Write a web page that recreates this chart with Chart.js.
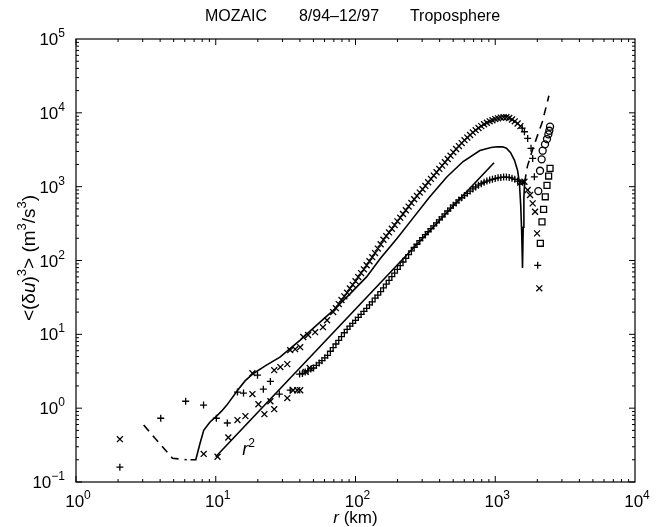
<!DOCTYPE html>
<html>
<head>
<meta charset="utf-8">
<script src="https://cdn.jsdelivr.net/npm/chart.js@4.4.1/dist/chart.umd.min.js"></script>
<style>
  html, body { margin: 0; padding: 0; background: #fff; }
</style>
</head>
<body>
<canvas id="sf3" width="665" height="527"></canvas>
<script>
// axis ticks: decade values and the exponent shown in each "10^n" label
const xDecades = [1, 10, 100, 1000, 10000];
const xTickExp = ['0', '1', '2', '3', '4'];
const yDecades = [0.1, 1, 10, 100, 1000, 10000, 100000];
const yTickExp = ['\u22121', '0', '1', '2', '3', '4', '5'];

// upper branch, "x" markers (dense part)
const upperR = [69.2,72.4,75.9,79.4,83.2,87.1,91.2,95.5,100,104.7,109.6,114.8,120.2,125.9,131.8,138.0,144.5,151.4,158.5,166.0,
  173.8,182.0,190.5,199.5,208.9,218.8,229.1,239.9,251.2,263.0,275.4,288.4,302.0,316.2,331.1,346.7,363.1,380.2,398.1,416.9,
  436.5,457.1,478.6,501.2,524.8,549.5,575.4,602.6,631.0,660.7,691.8,724.4,758.6,794.3,831.8,871.0,912.0,955.0,1000,1047,
  1096,1148,1202,1259,1318,1380,1445,1514];
const upperV = [20,22.6,25.7,29.2,32.7,36.7,41.7,46.8,52.5,59.6,67.6,75.9,86.1,97.7,111,126,145,166,191,214,
  240,269,302,339,380,427,479,537,603,676,750,832,923,1023,1148,1274,1413,1567,1738,1928,
  2138,2371,2630,2917,3236,3548,3890,4266,4624,5012,5433,5821,6237,6607,6998,7328,7674,7943,8222,8414,
  8610,8710,8710,8511,8128,7674,7161,6607];

// lower branch, "+" markers (dense part)
const lowerR = [39.8,41.7,43.7,45.7,47.9,50.1,52.5,55.0,57.5,60.3,63.1,66.1,
  69.2,72.4,75.9,79.4,83.2,87.1,91.2,95.5,100,104.7,109.6,114.8,120.2,125.9,131.8,138.0,144.5,151.4,158.5,166.0,
  173.8,182.0,190.5,199.5,208.9,218.8,229.1,239.9,251.2,263.0,275.4,288.4,302.0,316.2,331.1,346.7,363.1,380.2,398.1,416.9,
  436.5,457.1,478.6,501.2,524.8,549.5,575.4,602.6,631.0,660.7,691.8,724.4,758.6,794.3,831.8,871.0,912.0,955.0,1000,1047,
  1096,1148,1202,1259,1318,1380,1445];
const lowerV = [2.9,2.95,3.1,3.2,3.4,3.5,3.8,4.1,4.4,4.8,5.2,5.9,
  6.6,7.4,8.3,9.3,10.5,11.7,12.9,14.1,15.5,17.0,18.6,20.4,22.4,25.1,27.5,30.9,33.9,38.0,42.7,47.9,
  53.7,60.3,67.6,75.9,85.1,95.5,107,120,135,151,166,186,204,224,245,269,295,324,355,389,
  427,468,513,562,603,661,708,759,813,871,933,989,1047,1096,1148,1189,1230,1259,1288,1318,
  1334,1349,1349,1334,1303,1259,1189];

// scattered points at small and large separations
const crossSmallR = [2.06,8.2,10.3,12.3,14.3,16.3,18.3,20.2,22.3,24.6,26.2,32.5,35.8,38.3,40.2,18.3,26.2,29.0,32.5,34.1,37.0,40.2,42.3,45.8,51.4,58.5,62.6,44,47];
const crossSmallV = [0.38,0.24,0.22,0.40,0.69,0.78,1.55,1.13,0.83,1.24,0.97,1.37,1.75,1.75,1.75,2.98,3.27,3.6,3.95,6.1,6.3,6.7,9.2,9.8,10.7,12.5,15.5,3.1,3.5];
const plusSmallR = [2.06,4.04,6.09,8.18,10.1,12.1,14.3,15.8,19.9,21.9,24.6,28.5,34.1];
const plusSmallV = [0.159,0.73,1.24,1.10,0.73,0.63,1.65,1.6,2.8,1.81,2.3,1.55,1.75];
const plusTailR = [1560,1617,1706,1803,1853,1905,2013];
const plusTailV = [6200,5546,4508,3304,2415,1361,86];
const crossTailR = [1510,1565,1617,1706,1774,1853,1927,1991,2066];
const crossTailV = [1140,1150,1164,900,770,594,457,233,42];
const circleR = [2466,2437,2399,2346,2270,2184,2148,2091,2033];
const circleV = [6490,5720,5117,4416,3741,3069,2344,1644,871];
const squareR = [2466,2410,2346,2280,2218,2160,2102];
const squareV = [1770,1393,1042,730,492,334,171];

// fitted curve (solid where positive, dashed where negative)
const fitR = [6.6,7.2,7.67,8.2,9.1,10,11,12.0,14.3,16.2,18.6,22.9,28.8,40,52.5,69,91,120,151,200,257,339,450,589,776,933,1030,1130,1202,1288,1371,1445,1489,1521,1545,1567,1585,1603,1622];
const fitV = [0.2,0.2,0.32,0.5,0.65,0.76,0.91,1.1,1.74,2.34,2.95,3.8,4.9,8.3,13.2,21,35,60,107,204,372,724,1350,2190,3090,3390,3470,3460,3310,2880,2290,1660,1120,562,251,79,282,708,1150];
const fitNegLeftR = [3.05,4.9,6.2];
const fitNegLeftV = [0.59,0.21,0.2];
const fitNegRightR = [1622,1700,1880,2170,2420];
const fitNegRightV = [1150,1900,3500,7500,17000];

// r^2 reference line
const slopeR = [10, 980];
const slopeV = [0.22, 2113];

const pts = (xs, ys) => xs.map((x, i) => ({ x: x, y: ys[i] }));

const FONT = '"Liberation Sans", Arial, Helvetica, sans-serif';

// draws a row of text pieces (with superscripts), anchored by align
function drawRuns(ctx, runs, x, y, align) {
    let w = 0;
    runs.forEach(r => { ctx.font = r.font; w += ctx.measureText(r.t).width; });
    let cx = align === 'center' ? x - w / 2 : (align === 'right' ? x - w : x);
    ctx.textBaseline = 'alphabetic';
    ctx.textAlign = 'left';
    runs.forEach(r => {
        ctx.font = r.font;
        ctx.fillText(r.t, cx, y - (r.dy || 0));
        cx += ctx.measureText(r.t).width;
    });
}

const tickFont = '17px ' + FONT, expFont = '12px ' + FONT;
const powerLabel = exp => [{ t: '10', font: tickFont }, { t: exp, font: expFont, dy: 8 }];

const framePlugin = {
    id: 'frame',
    afterDraw(chart) {
        const ctx = chart.ctx;
        const a = chart.chartArea;
        const xs = chart.scales.x, ys = chart.scales.y;
        ctx.save();
        ctx.strokeStyle = '#000';
        ctx.lineWidth = 1.2;
        ctx.strokeRect(a.left, a.top, a.right - a.left, a.bottom - a.top);

        // inward ticks on all four sides
        ctx.lineWidth = 1;
        ctx.beginPath();
        for (let d = 0; d < 4; d++) {
            for (let m = 1; m <= 9; m++) {
                const px = xs.getPixelForValue(m * Math.pow(10, d));
                const len = m === 1 ? 6 : 3;
                ctx.moveTo(px, a.bottom); ctx.lineTo(px, a.bottom - len);
                ctx.moveTo(px, a.top); ctx.lineTo(px, a.top + len);
            }
        }
        for (let d = -1; d < 5; d++) {
            for (let m = 1; m <= 9; m++) {
                const py = ys.getPixelForValue(m * Math.pow(10, d));
                const len = m === 1 ? 6 : 3;
                ctx.moveTo(a.left, py); ctx.lineTo(a.left + len, py);
                ctx.moveTo(a.right, py); ctx.lineTo(a.right - len, py);
            }
        }
        ctx.stroke();

        ctx.fillStyle = '#000';
        // tick labels
        xDecades.forEach((v, i) => {
            drawRuns(ctx, powerLabel(xTickExp[i]), xs.getPixelForValue(v) + 2, a.bottom + 25, 'center');
        });
        yDecades.forEach((v, i) => {
            drawRuns(ctx, powerLabel(yTickExp[i]), a.left - 11, ys.getPixelForValue(v) + 6, 'right');
        });

        // title
        const tf = '16px ' + FONT;
        drawRuns(ctx, [{ t: 'MOZAIC', font: tf }], 236, 21, 'center');
        drawRuns(ctx, [{ t: '8/94\u201312/97', font: tf }], 339, 21, 'center');
        drawRuns(ctx, [{ t: 'Troposphere', font: tf }], 455, 21, 'center');

        // x axis title
        drawRuns(ctx, [
            { t: 'r', font: 'italic 17px ' + FONT },
            { t: ' (km)', font: '17px ' + FONT }
        ], (a.left + a.right) / 2, 523, 'center');

        // y axis title, rotated
        ctx.save();
        ctx.translate(35, 258);
        ctx.rotate(-Math.PI / 2);
        const lf = '19px ' + FONT, sf = '13px ' + FONT;
        drawRuns(ctx, [
            { t: '<(\u03b4', font: lf },
            { t: 'u', font: 'italic 19px ' + FONT },
            { t: ')', font: lf },
            { t: '3', font: sf, dy: 9 },
            { t: '> (m', font: lf },
            { t: '3', font: sf, dy: 9 },
            { t: '/s', font: lf },
            { t: '3', font: sf, dy: 9 },
            { t: ')', font: lf }
        ], 0, 0, 'center');
        ctx.restore();

        // r^2 label next to the reference line
        const lx = xs.getPixelForValue(15.5), ly = ys.getPixelForValue(0.23);
        drawRuns(ctx, [
            { t: 'r', font: 'italic 18px ' + FONT },
            { t: '2', font: '12px ' + FONT, dy: 8 }
        ], lx, ly, 'left');
        ctx.restore();
    }
};

const markerStyle = (style, radius) => ({
    showLine: false,
    pointStyle: style,
    pointRadius: radius,
    pointBorderColor: '#000',
    pointBackgroundColor: 'rgba(0,0,0,0)',
    pointBorderWidth: 1.3
});
const lineStyle = (dash) => ({
    showLine: true,
    pointRadius: 0,
    borderColor: '#000',
    borderWidth: 1.6,
    borderDash: dash,
    tension: 0
});

new Chart(document.getElementById('sf3'), {
    type: 'scatter',
    data: {
        datasets: [
            Object.assign({ label: 'fit', data: pts(fitR, fitV) }, lineStyle([])),
            Object.assign({ label: 'fit (negative, left)', data: pts(fitNegLeftR, fitNegLeftV) }, lineStyle([8, 6])),
            Object.assign({ label: 'fit (negative, right)', data: pts(fitNegRightR, fitNegRightV) }, lineStyle([8, 6])),
            Object.assign({ label: 'r^2', data: pts(slopeR, slopeV) }, lineStyle([])),
            Object.assign({ label: 'x upper', data: pts(upperR, upperV).concat(pts(crossSmallR, crossSmallV), pts(crossTailR, crossTailV)) }, markerStyle('crossRot', 4.2)),
            Object.assign({ label: '+ lower', data: pts(lowerR, lowerV).concat(pts(plusSmallR, plusSmallV), pts(plusTailR, plusTailV)) }, markerStyle('cross', 3.5)),
            Object.assign({ label: 'circles', data: pts(circleR, circleV) }, markerStyle('circle', 3.5)),
            Object.assign({ label: 'squares', data: pts(squareR, squareV) }, markerStyle('rect', 4.2))
        ]
    },
    options: {
        responsive: false,
        animation: false,
        layout: { padding: { top: 39, right: 30, left: 0, bottom: 0 } },
        plugins: {
            legend: { display: false },
            tooltip: { enabled: false }
        },
        scales: {
            x: {
                type: 'logarithmic',
                min: 1, max: 10000,
                grid: { display: false, drawTicks: false },
                border: { display: false },
                afterBuildTicks: s => { s.ticks = xDecades.map(v => ({ value: v })); },
                afterFit: s => { s.height = 45; },
                ticks: { display: false }
            },
            y: {
                type: 'logarithmic',
                min: 0.1, max: 100000,
                grid: { display: false, drawTicks: false },
                border: { display: false },
                afterBuildTicks: s => { s.ticks = yDecades.map(v => ({ value: v })); },
                afterFit: s => { s.width = 76; },
                ticks: { display: false }
            }
        }
    },
    plugins: [framePlugin]
});
</script>
</body>
</html>
